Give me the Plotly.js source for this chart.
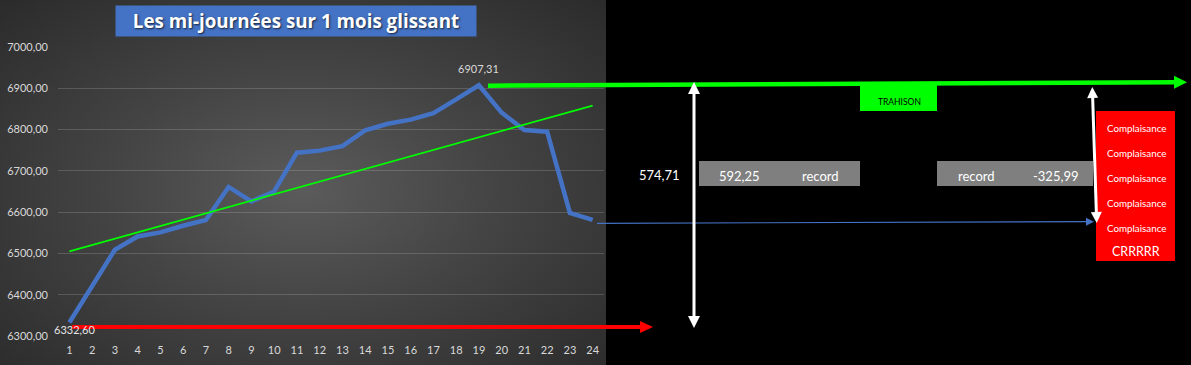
<!DOCTYPE html>
<html>
<head>
<meta charset="utf-8">
<script src="https://cdn.plot.ly/plotly-3.0.1.min.js"></script>
<style>
  html, body { margin:0; padding:0; background:#000; width:1191px; height:365px; overflow:hidden; }
  #bg { position:absolute; left:0; top:0; width:606px; height:365px;
        background: radial-gradient(ellipse at 50% 52%, #5b5b5b 0%, #444 45%, #2b2b2b 100%); }
  #chart { position:absolute; left:0; top:0; width:1191px; height:365px; }
</style>
</head>
<body>
<div id="bg"></div>
<div id="chart"></div>
<script>
// ---- data ----
const days = [1,2,3,4,5,6,7,8,9,10,11,12,13,14,15,16,17,18,19,20,21,22,23,24];
const values = [6332.60, 6420, 6509, 6541, 6551, 6567, 6581, 6661, 6626, 6650,
                6744, 6749, 6760, 6798, 6814, 6824, 6840, 6873, 6907.31, 6841,
                6799, 6795, 6598, 6581.32];
const trendX = [1, 24];
const trendY = [6505, 6858];
const yTicks = [6300, 6400, 6500, 6600, 6700, 6800, 6900, 7000];
const yTickText = ["6300,00","6400,00","6500,00","6600,00","6700,00","6800,00","6900,00","7000,00"];
const titleText = "Les mi-journées sur 1 mois glissant";
const boxTexts = { ecart: "574,71", rec1: "592,25", recLbl: "record", rec2: "-325,99", trahison: "TRAHISON", compl: "Complaisance", crr: "CRRRRR" };

const fr = v => v.toFixed(2).replace('.', ',');

// ---- geometry helpers (pixel -> paper) ----
const W = 1191, H = 365, ML = 58, MR = 587, MT = 47, MB = 29;
const PW = W - ML - MR, PH = H - MT - MB;
const X = px => (px - ML) / PW;
const Y = py => (MT + PH - py) / PH;

const shapes = [];
function line(x0, y0, x1, y1, color, width) {
  shapes.push({type:'line', xref:'paper', yref:'paper', x0:X(x0), y0:Y(y0), x1:X(x1), y1:Y(y1),
               line:{color:color, width:width}, layer:'above'});
}
function head(tx, ty, dx, dy, len, half, color) {
  const n = Math.hypot(dx, dy); dx /= n; dy /= n;
  const bx = tx - dx*len, by = ty - dy*len;
  const px = -dy, py = dx;
  const p1 = [bx + px*half, by + py*half], p2 = [bx - px*half, by - py*half];
  shapes.push({type:'path', xref:'paper', yref:'paper',
    path:`M ${X(tx)},${Y(ty)} L ${X(p1[0])},${Y(p1[1])} L ${X(p2[0])},${Y(p2[1])} Z`,
    fillcolor:color, line:{width:0}, layer:'above'});
}
function rect(x0, y0, x1, y1, color) {
  shapes.push({type:'rect', xref:'paper', yref:'paper', x0:X(x0), y0:Y(y0), x1:X(x1), y1:Y(y1),
               fillcolor:color, line:{width:0}, layer:'above'});
}

// boxes
rect(699, 161, 860, 186, '#7f7f7f');
rect(937, 161, 1093, 186, '#7f7f7f');
rect(860, 85, 937, 111, '#00ff00');
rect(1096, 111, 1175, 261, '#ff0000');

// red arrow
line(72, 327, 642, 327, '#ff0000', 4);
head(653, 327, 1, 0, 13, 6, '#ff0000');
// green arrow
line(488, 85.7, 1176, 82.3, '#00ff00', 4.5);
head(1187, 82.2, 1, 0, 13, 6.5, '#00ff00');
// blue thin arrow
line(597, 223.3, 1087, 221.7, '#4472c4', 1.2);
head(1094, 221.7, 1, 0, 8, 4, '#4472c4');
// white double arrow (left)
line(694, 92, 694, 318, '#ffffff', 3);
head(694, 82, 0, -1, 12, 6, '#ffffff');
head(694, 328, 0, 1, 12, 6, '#ffffff');
// white double arrow (right)
line(1092.6, 96, 1096.4, 214, '#ffffff', 3);
head(1092.3, 87, -0.03, -1, 11, 5.5, '#ffffff');
head(1096.7, 223, 0.03, 1, 11, 5.5, '#ffffff');

const FONT = 'Lato, "Open Sans", sans-serif';
const annotations = [];
function txt(cx, cy, text, size, color, extra) {
  annotations.push(Object.assign({xref:'paper', yref:'paper', x:X(cx), y:Y(cy), text:text,
    showarrow:false, xanchor:'center', yanchor:'middle',
    font:{family:FONT, size:size, color:color}}, extra || {}));
}
// title
annotations.push({xref:'paper', yref:'paper', x:X(296), y:Y(21), xanchor:'center', yanchor:'middle',
  text:'<b>' + titleText + '</b>', showarrow:false, width:360, height:30, borderpad:0,
  bgcolor:'#4472c4', font:{family:'"Open Sans", sans-serif', size:18.8, color:'#ffffff',
  shadow:'1px 1px 2px rgba(0,0,0,0.7)'}});
// data labels tied to data
const iMax = values.indexOf(Math.max(...values));
const iMin = values.indexOf(Math.min(...values));
annotations.push({xref:'x', yref:'y', x:days[iMax], y:values[iMax], text:fr(values[iMax]), showarrow:false,
  yshift:17, font:{family:FONT, size:11, color:'#d9d9d9'}});
annotations.push({xref:'x', yref:'y', x:days[iMin], y:values[iMin], text:fr(values[iMin]), showarrow:false,
  xshift:5, yshift:-7, font:{family:FONT, size:11, color:'#e6e6e6'}});

txt(659, 175, boxTexts.ecart, 13, '#ffffff');
txt(739.5, 176, boxTexts.rec1, 13, '#ffffff');
txt(820, 176, boxTexts.recLbl, 13, '#ffffff');
txt(976, 176, boxTexts.recLbl, 13, '#ffffff');
txt(1055, 176, boxTexts.rec2, 13, '#ffffff');
txt(899, 102, boxTexts.trahison, 8.5, '#000000');
[127.7, 152.7, 177.7, 202.7, 227.7].forEach(cy => txt(1136, cy, boxTexts.compl, 9.8, '#ffffff'));
txt(1136, 251.5, boxTexts.crr, 12.5, '#ffffff');

const traces = [
  {x: days, y: values, type:'scatter', mode:'lines', line:{color:'#4472c4', width:4.5}, hoverinfo:'skip'},
  {x: trendX, y: trendY, type:'scatter', mode:'lines', line:{color:'#00ff00', width:1.6}, hoverinfo:'skip'}
];

const layout = {
  width: W, height: H,
  margin: {l:ML, r:MR, t:MT, b:MB, pad:0},
  paper_bgcolor:'rgba(0,0,0,0)', plot_bgcolor:'rgba(0,0,0,0)',
  showlegend:false,
  xaxis: {range:[0.5, 24.5], tickvals:days, ticktext:days.map(String), showgrid:false, zeroline:false,
          showline:false, ticks:'', ticklabelstandoff:6,
          tickfont:{family:FONT, size:11, color:'#d9d9d9'}, fixedrange:true},
  yaxis: {range:[6300, 7000], tickvals:yTicks, ticktext:yTickText, showgrid:true,
          gridcolor:'rgba(255,255,255,0.16)', gridwidth:1, zeroline:false, showline:false, ticks:'',
          ticklabelstandoff:9, tickfont:{family:FONT, size:11, color:'#d9d9d9'}, fixedrange:true},
  shapes: shapes,
  annotations: annotations
};

Plotly.newPlot('chart', traces, layout, {staticPlot:true, displayModeBar:false});
</script>
</body>
</html>
